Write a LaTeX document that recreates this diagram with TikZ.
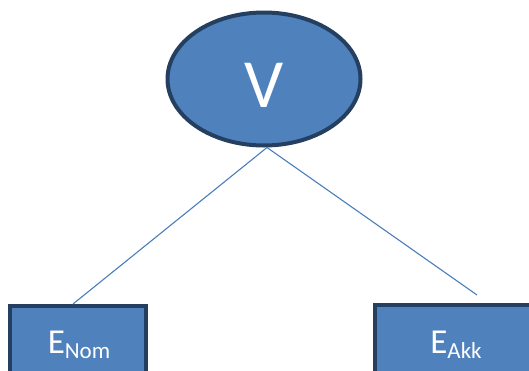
\documentclass[tikz,border=0pt]{standalone}
\usepackage{fontspec}
\setmainfont{Carlito}
\usetikzlibrary{shapes.geometric}
\definecolor{boxfill}{HTML}{4F81BD}
\definecolor{boxline}{HTML}{243F60}
\definecolor{connline}{HTML}{4A7EBB}
\newcommand{\esub}[1]{\raisebox{-5pt}{\fontsize{23}{23}\selectfont #1}}
\begin{document}
\begin{tikzpicture}[x=1pt,y=-1pt,
  vnode/.style={ellipse,draw=boxline,fill=boxfill,line width=4pt,minimum width=193pt,minimum height=133pt,inner sep=0pt},
  ebox/.style={rectangle,draw=boxline,fill=boxfill,line width=4pt,inner sep=0pt},
  etext/.style={text=white,anchor=base,inner sep=0pt,font=\fontsize{35}{35}\selectfont},
  conn/.style={draw=connline,line width=1.1pt}]
\useasboundingbox (0,0) rectangle (529,370);
\clip (0,0) rectangle (529,370);
\node[vnode] (V) at (264,79) {};
\node[text=white,inner sep=0pt,anchor=base,font=\fontsize{69}{69}\selectfont] (vt) at (264,107) {V};
\node[ebox,minimum width=136pt,minimum height=74pt] (enom) at (78,343) {};
\node[ebox,minimum width=165pt,minimum height=74pt] (eakk) at (457.5,342) {};
\node[etext] (tnom) at (79,353) {E\esub{Nom}};
\node[etext] (takk) at (456,353) {E\esub{Akk}};
\coordinate (rend) at (477,295);
\draw[conn] ([xshift=3pt]V.south) -- ([xshift=-5pt]enom.north);
\draw[conn] ([xshift=3pt]V.south) -- (rend);
\end{tikzpicture}
\end{document}
